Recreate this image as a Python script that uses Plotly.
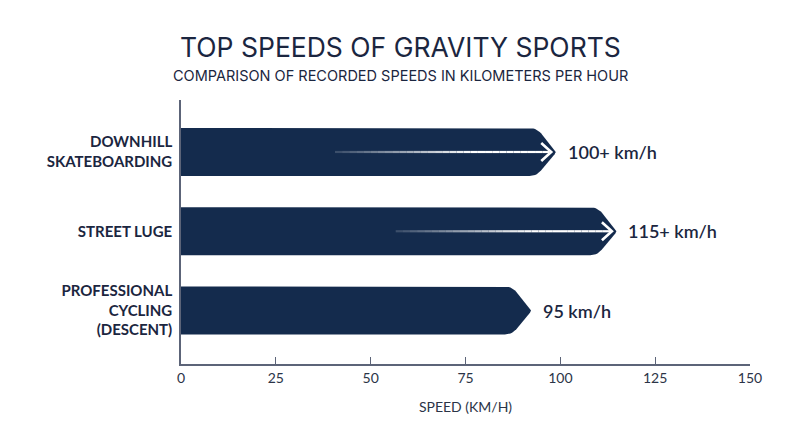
import plotly.graph_objects as go
import numpy as np

# ---- data ----
categories = ["DOWNHILL<br>SKATEBOARDING", "STREET LUGE", "PROFESSIONAL<br>CYCLING<br>(DESCENT)"]
bar_speeds = [99, 115, 92.5]          # where each bar's tip reaches (km/h)
value_labels = ["100+ km/h", "115+ km/h", "95 km/h"]
has_arrow = [True, True, False]
x_ticks = [0, 25, 50, 75, 100, 125, 150]

# ---- style ----
OFF = 8                      # page body margin
W, H = 800 - OFF, 447 - OFF
ML, MR, MT, MB = 181 - OFF, 50, 100 - OFF, 83
X_RANGE = [0, 150]
Y_RANGE = [2.675, -0.656]
NAVY = "#142b4d"
TEXT = "#1b2640"
AXIS = "#5c6478"
FONT = "Lato"
TFONT = "Inter"

PLOT_W = W - ML - MR
PLOT_H = H - MT - MB
sx = PLOT_W / (X_RANGE[1] - X_RANGE[0])        # px per x unit
sy = PLOT_H / abs(Y_RANGE[0] - Y_RANGE[1])     # px per y unit


def paper_y(page_y):
    return (H - MB - (page_y - OFF)) / PLOT_H


def paper_x(page_x):
    return (page_x - OFF - ML) / PLOT_W


HALF_H = 24      # px
TIP_L = 20       # px
R_CORNER = 7
R_TIP = 3


def round_corner(A, P, B, r, n=8):
    A, P, B = map(np.asarray, (A, P, B))
    d1 = (A - P) / np.linalg.norm(A - P)
    d2 = (B - P) / np.linalg.norm(B - P)
    P1 = P + r * d1
    P2 = P + r * d2
    t = np.linspace(0, 1, n)[:, None]
    return (1 - t) ** 2 * P1 + 2 * (1 - t) * t * P + t ** 2 * P2


def bar_polygon(value, yc):
    T = value * sx
    pts = [np.array([[0, -HALF_H]])]
    top_c = (T - TIP_L, -HALF_H)
    tip = (T, 0)
    bot_c = (T - TIP_L, HALF_H)
    pts.append(round_corner((0, -HALF_H), top_c, tip, R_CORNER))
    pts.append(round_corner(top_c, tip, bot_c, R_TIP))
    pts.append(round_corner(tip, bot_c, (0, HALF_H), R_CORNER))
    pts.append(np.array([[0, HALF_H], [0, -HALF_H]]))
    P = np.vstack(pts)
    return P[:, 0] / sx, yc + P[:, 1] / sy


fig = go.Figure()

for i, v in enumerate(bar_speeds):
    xs, ys = bar_polygon(v, i)
    fig.add_trace(go.Scatter(x=xs, y=ys, fill="toself", fillcolor=NAVY,
                             mode="lines", line=dict(width=0, color=NAVY),
                             hoverinfo="skip", showlegend=False))

# arrows (white, fading in from the left)
ARROW_LEN = 57
ARROW_GAP = 1.4
for i, v in enumerate(bar_speeds):
    if not has_arrow[i]:
        continue
    x_end = v - ARROW_GAP
    x_start = x_end - ARROW_LEN
    n = 30
    xs = np.linspace(x_start, x_end - 0.5, n + 1)
    for k in range(n):
        op = min(1.0, 0.15 + (k + 0.5) / (n * 0.75))
        fig.add_trace(go.Scatter(x=[xs[k], xs[k + 1]], y=[i, i], mode="lines",
                                 line=dict(color=f"rgba(255,255,255,{op:.3f})", width=2.2),
                                 hoverinfo="skip", showlegend=False))
    hx = 10 / sx
    hy = 9 / sy
    fig.add_trace(go.Scatter(x=[x_end - hx, x_end, x_end - hx], y=[i - hy, i, i + hy],
                             mode="lines", line=dict(color="white", width=2.6),
                             hoverinfo="skip", showlegend=False))

# value labels
for i, v in enumerate(bar_speeds):
    fig.add_annotation(x=v, y=i, xref="x", yref="y", text=value_labels[i],
                       showarrow=False, xanchor="left", yanchor="middle", xshift=9,
                       font=dict(family=FONT, size=18, color=TEXT, weight=600))

# title & subtitle
fig.add_annotation(x=paper_x(400), y=paper_y(47), xref="paper", yref="paper", xanchor="center",
                   yanchor="middle", showarrow=False, text="TOP SPEEDS OF GRAVITY SPORTS",
                   font=dict(family=TFONT, size=26.5, color=TEXT, weight=400))
fig.add_annotation(x=paper_x(400), y=paper_y(75), xref="paper", yref="paper", xanchor="center",
                   yanchor="middle", showarrow=False,
                   text="COMPARISON OF RECORDED SPEEDS IN KILOMETERS PER HOUR",
                   font=dict(family=TFONT, size=14.5, color=TEXT, weight=400))

fig.update_layout(
    width=W, height=H,
    margin=dict(l=ML, r=MR, t=MT, b=MB),
    paper_bgcolor="white", plot_bgcolor="white",
    font=dict(family=FONT, color=TEXT),
    xaxis=dict(range=X_RANGE, tickvals=x_ticks, ticktext=[str(t) for t in x_ticks],
               showgrid=False, zeroline=False, showline=True, linecolor=AXIS, linewidth=1.5,
               ticks="inside", ticklen=7, tickcolor=AXIS, tickwidth=1.2,
               tickfont=dict(family=FONT, size=14, color="#2b3447"),
               title=dict(text="SPEED (KM/H)", font=dict(family=FONT, size=14, color="#2b3447"),
                          standoff=18),
               fixedrange=True),
    yaxis=dict(range=Y_RANGE, tickvals=[0, 1, 2], ticktext=categories,
               showgrid=False, zeroline=False, showline=True, linecolor=AXIS, linewidth=1.5,
               ticks="", ticklabelstandoff=4,
               tickfont=dict(family=FONT, size=15, color=TEXT, weight="bold"),
               fixedrange=True),
    showlegend=False,
)

fig.write_html("out.html")
